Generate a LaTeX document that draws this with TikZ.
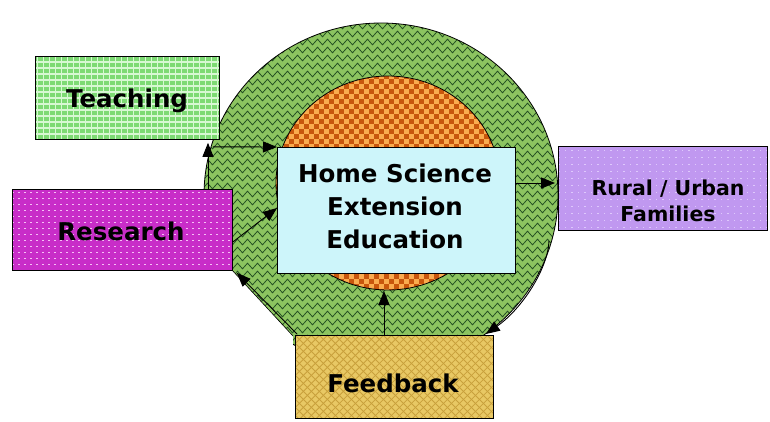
\documentclass[tikz,border=0pt]{standalone}
\usepackage{fontspec}
\setmainfont{DejaVu Sans}
\usetikzlibrary{arrows.meta,decorations.pathmorphing,calc}
\definecolor{ringgreen}{RGB}{140,196,96}
\definecolor{zigdark}{RGB}{35,80,35}
\definecolor{orlight}{RGB}{250,172,78}
\definecolor{ordark}{RGB}{200,86,12}
\definecolor{teachgreen}{RGB}{125,218,115}
\definecolor{teachline}{RGB}{215,248,210}
\definecolor{resmag}{RGB}{200,45,200}
\definecolor{resdot}{RGB}{245,190,245}
\definecolor{edublue}{RGB}{205,245,250}
\definecolor{rurlav}{RGB}{192,152,240}
\definecolor{rurdot}{RGB}{222,200,252}
\definecolor{fbyel}{RGB}{232,200,100}
\definecolor{fbline}{RGB}{200,160,60}
\begin{document}
\begin{tikzpicture}[x=1pt,y=-1pt,
  box/.style={draw=black, line width=0.8pt, rectangle, inner sep=0pt, anchor=north west},
  zz/.style={zigdark, line width=0.8pt, decorate, decoration={zigzag, segment length=10pt, amplitude=2.8pt}},
  arr/.style={black, line width=0.9pt, -{Triangle[length=14pt,width=11pt]}},
  lbl/.style={inner sep=0pt, anchor=base, font=\bfseries\fontsize{24.5}{30}\selectfont},
  slbl/.style={inner sep=0pt, anchor=base, font=\bfseries\fontsize{20.5}{26}\selectfont},
]
\useasboundingbox (0,0) rectangle (770,421);
\fill[white] (0,0) rectangle (770,421);

% outer green ring (ellipse cut by a chord at the lower left)
\coordinate (ring) at (381,195);
\def\ringcut{(0,0) -- (770,0) -- (770,421) -- (293,421) -- (293,336) -- (232,270) -- (0,270) -- cycle}
\begin{scope}
  \clip \ringcut;
  \clip (ring) ellipse [x radius=177, y radius=172];
  \fill[ringgreen] (200,20) rectangle (562,380);
  \foreach \k in {0,...,44} \draw[zz] (195,26+\k*8) -- (570,26+\k*8);
\end{scope}
\begin{scope}
  \clip \ringcut;
  \draw[black, line width=0.8pt] (ring) ellipse [x radius=177, y radius=172];
\end{scope}
\draw[black, line width=0.6pt] (232,270) -- (293,336);

% inner orange disc
\coordinate (orc) at (388,183);
\begin{scope}
  \clip (orc) ellipse [x radius=112, y radius=107];
  \fill[orlight] (270,70) rectangle (505,295);
  \foreach \i in {0,...,23} \foreach \j in {0,...,22} {
    \fill[ordark] (274+\i*10,74+\j*10) rectangle ++(5,5);
    \fill[ordark] (279+\i*10,79+\j*10) rectangle ++(5,5);
  }
\end{scope}
\draw[black, line width=0.8pt] (orc) ellipse [x radius=112, y radius=107];
\coordinate (orb) at (384,291);

% boxes
\node[box, minimum width=184pt, minimum height=83pt, fill=teachgreen,
  path picture={\draw[teachline, line width=1.4pt, step=6pt] (path picture bounding box.south west) grid (path picture bounding box.north east);}]
  (teach) at (35,56) {};
\node[box, minimum width=220pt, minimum height=81pt, fill=resmag,
  path picture={\foreach \k in {3,9,...,81} \draw[resdot, line width=1.5pt, dash pattern=on 2pt off 4pt] ($(path picture bounding box.north west)+(0,\k)$) -- ++(230,0);}]
  (res) at (12,189) {};
\node[box, minimum width=238pt, minimum height=126pt, fill=edublue] (edu) at (277,147) {};
\node[box, minimum width=209pt, minimum height=84pt, fill=rurlav,
  path picture={\foreach \k in {4,11,...,84} \draw[rurdot, line width=1pt, dash pattern=on 1.5pt off 5pt] ($(path picture bounding box.north west)+(0,\k)$) -- ++(215,0);}]
  (rur) at (558,146) {};
\node[box, minimum width=198pt, minimum height=83pt, fill=fbyel,
  path picture={\foreach \k in {-96,-88,...,296} {\draw[fbline, line width=0.8pt] ($(path picture bounding box.north west)+(\k,0)$) -- ++(90,90); \draw[fbline, line width=0.8pt] ($(path picture bounding box.north west)+(\k,0)$) -- ++(-90,90);}}]
  (fb) at (295,335) {};

% texts
\node[lbl] (teachtxt) at (127,107) {Teaching};
\node[lbl] (restxt) at (121,240) {Research};
\node[lbl] (edu1) at (395,182) {Home Science};
\node[lbl] (edu2) at (395,215) {Extension};
\node[lbl] (edu3) at (395,248) {Education};
\node[lbl] (fbtxt) at (393,392) {Feedback};
\node[slbl] (rur1) at (668,195) {Rural / Urban};
\node[slbl] (rur2) at (668,221) {Families};

% connectors
\coordinate (t1) at ($(teach.south east)+(-7,7)$);
\coordinate (r1) at ($(rur.south west)+(-9,10)$);
\draw[arr] (t1) -- (edu.north west);
\draw[arr, shorten >=3pt] ($(res.north west)+(196,0)$) -- ($(teach.south west)+(173,0)$);
\draw[arr] ($(res.north east)+(0,53)$) -- ($(edu.north west)+(0,61)$);
\draw[arr] ($(fb.north west)+(2,-1)$) -- ($(res.south east)+(4,2)$);
\draw[arr] ($(fb.north west)+(89,0)$) -- (orb);
\draw[arr] (r1) .. controls ($(r1)+(-1,28)$) and ($(fb.north east)+(28,-26)$) .. ($(fb.north east)+(-8,-1)$);
\draw[arr, shorten >=3pt] ($(edu.north east)+(0,36)$) -- ($(rur.north west)+(0,37)$);
\end{tikzpicture}
\end{document}
